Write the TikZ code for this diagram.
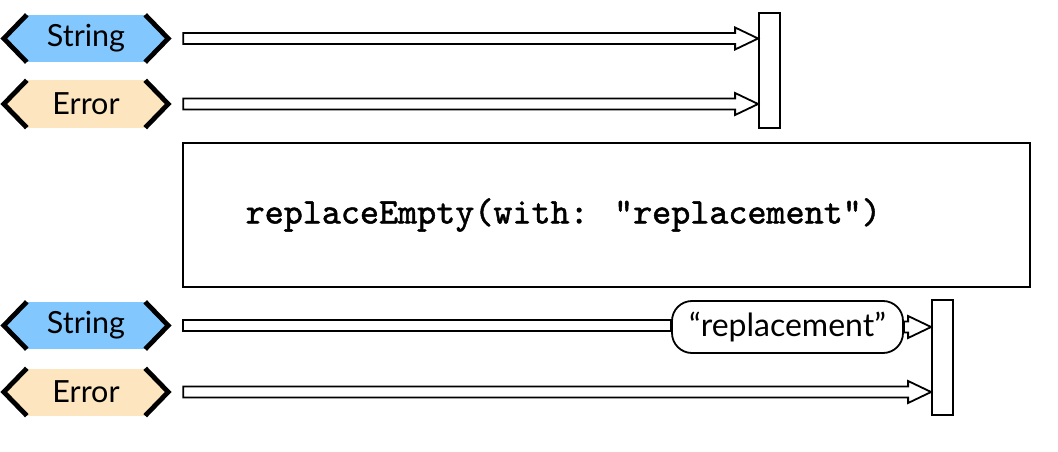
\documentclass[tikz,border=0pt]{standalone}
\usepackage{fontspec}
\setmainfont{Lato}
\newfontfamily\codefont[FakeBold=1.4]{lmmono10-regular.otf}
\usetikzlibrary{calc,positioning}
\definecolor{tagblue}{HTML}{82C8FF}
\definecolor{tagsand}{HTML}{FCE5BF}

\begin{document}
\begin{tikzpicture}[
  x=1pt,y=-1pt,
  tag/.style={fill=#1,minimum width=118pt,minimum height=47pt,inner sep=0pt,
              font=\fontsize{30.5}{34}\selectfont},
  chev/.style={line width=4.8pt,line join=miter},
  bar/.style={draw,line width=1.8pt,fill=white,minimum width=21pt,
              minimum height=115pt,inner sep=0pt},
  body/.style={draw,line width=1.8pt,fill=white,line join=miter},
  hollow/.style={to path={let \p1=(\tikztostart),\p2=(\tikztotarget) in
    (\x1,{\y1+5.5pt}) -- ({\x2-23pt},{\y1+5.5pt}) -- ({\x2-23pt},{\y1+11pt})
    -- (\x2,\y1) -- ({\x2-23pt},{\y1-11pt}) -- ({\x2-23pt},{\y1-5.5pt})
    -- (\x1,{\y1-5.5pt}) -- cycle}},
  pipe/.style={to path={let \p1=(\tikztostart),\p2=(\tikztotarget) in
    (\x1,{\y1+5.5pt}) rectangle (\x2,{\y1-5.5pt})}},
  opbox/.style={draw,line width=1.8pt,minimum width=847pt,minimum height=144pt},
  code/.style={font=\fontsize{36.3}{40}\selectfont\codefont},
  value/.style={draw,line width=1.8pt,fill=white,rounded corners=20pt,
                minimum width=231pt,minimum height=52pt,inner sep=0pt,
                font=\fontsize{32}{36}\selectfont}
]
\useasboundingbox (0,0) rectangle (1058,452);

% input side
\node[tag=tagblue] (s1) at (86,38.5) {String};
\node[tag=tagsand] (e1) at (86,104) {Error};
\node[bar] (bar1) at (769.5,70.5) {};

% operator
\node[opbox] (op) at (606.5,215) {};
\node[code,anchor=west,right=60pt of op.west] (opcode)
  {replaceEmpty(with: “replacement“)};

% output side
\node[tag=tagblue] (s2) at (86,325.5) {String};
\node[tag=tagsand] (e2) at (86,392) {Error};
\node[bar] (bar2) at (942.5,357.5) {};
\node[value] (rep) at (787.5,327) {“replacement”};

\foreach \t/\c in {s1/tagblue,e1/tagsand,s2/tagblue,e2/tagsand}{
  \fill[\c] (\t.north west) -- ($(\t.west)+(-23,0)$) -- (\t.south west) -- cycle
            (\t.north east) -- ($(\t.east)+(23,0)$) -- (\t.south east) -- cycle;
  \draw[chev] (\t.north west) -- ($(\t.west)+(-23,0)$) -- (\t.south west)
              (\t.north east) -- ($(\t.east)+(23,0)$) -- (\t.south east);
}

\draw[body] ([xshift=38pt]s1.east) to[hollow] (bar1.west);
\draw[body] ([xshift=38pt]e1.east) to[hollow] (bar1.west);
\draw[body] ([xshift=38pt]s2.east) to[pipe] (rep.west);
\draw[body] (rep.east) to[hollow] (bar2.west);
\draw[body] ([xshift=38pt]e2.east) to[hollow] (bar2.west);
\end{tikzpicture}
\end{document}
